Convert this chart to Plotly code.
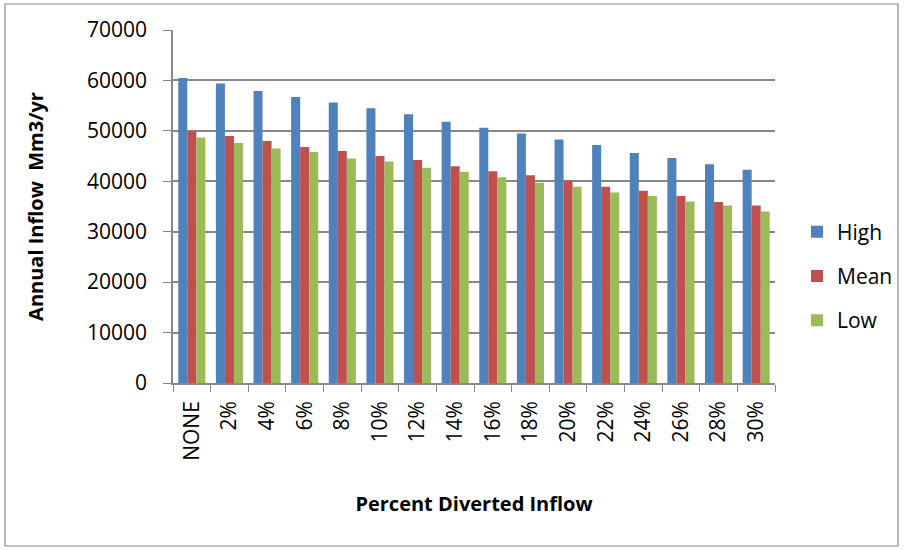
import plotly.graph_objects as go

categories = ["NONE", "2%", "4%", "6%", "8%", "10%", "12%", "14%",
              "16%", "18%", "20%", "22%", "24%", "26%", "28%", "30%"]
high = [60500, 59400, 57900, 56700, 55600, 54500, 53300, 51800,
        50600, 49500, 48300, 47200, 45600, 44600, 43400, 42300]
mean = [49900, 49000, 48000, 46800, 46000, 45000, 44200, 43000,
        42000, 41200, 40100, 38900, 38100, 37100, 35900, 35200]
low = [48700, 47600, 46500, 45800, 44500, 43900, 42700, 41900,
       40800, 39700, 38900, 37800, 37100, 36000, 35200, 34000]
y_ticks = [0, 10000, 20000, 30000, 40000, 50000, 60000, 70000]
y_tick_labels = [str(v) for v in y_ticks]

FONT = "Open Sans, sans-serif"
GRID = "#888888"

fig = go.Figure()
for name, vals, col in [("High", high, "#4F81BD"), ("Mean", mean, "#C0504D"), ("Low", low, "#9BBB59")]:
    fig.add_trace(go.Bar(x=categories, y=vals, name=name, marker_color=col,
                         marker_line_width=0, legendgroup=name))

L, R, T, B = 173, 130, 30, 167
W, H = 905, 550
pw, ph = W - L - R, H - T - B

def px_x(p):
    return (p - L) / pw

def px_y(p):
    return (H - B - p) / ph

fig.update_layout(
    width=W, height=H,
    margin=dict(l=L, r=R, t=T, b=B, pad=0, autoexpand=False),
    paper_bgcolor="white", plot_bgcolor="white",
    font=dict(family=FONT, size=21, color="black"),
    barmode="group", bargap=0.28, bargroupgap=0.0,
    legend=dict(x=px_x(797), y=px_y(276), xanchor="left", yanchor="middle",
                font=dict(size=21), tracegroupgap=14, bgcolor="rgba(0,0,0,0)"),
    xaxis=dict(type="category", showline=True, linecolor=GRID, linewidth=1.5,
               ticks="outside", ticklen=7, tickcolor=GRID, tickson="boundaries",
               tickangle=-90, showgrid=False, ticklabelstandoff=8,
               title=dict(text="<b>Percent Diverted Inflow</b>", font=dict(size=20), standoff=37)),
    yaxis=dict(range=[0, 70000], tickvals=y_ticks, ticktext=y_tick_labels,
               showline=True, linecolor=GRID, linewidth=1.5,
               ticks="outside", ticklen=8, tickcolor=GRID, showgrid=True, gridcolor=GRID,
               gridwidth=1.5, zeroline=False, ticklabelstandoff=12,
               title=dict(text="<b>Annual Inflow&nbsp; Mm3/yr</b>", font=dict(size=20), standoff=38)),
    shapes=[dict(type="rect", xref="paper", yref="paper",
                 x0=px_x(5), x1=px_x(898), y0=px_y(546), y1=px_y(4),
                 line=dict(color="#888888", width=1.2), fillcolor="rgba(0,0,0,0)", layer="below")],
)

fig.write_html("out.html", config={"displayModeBar": False},
               post_script="document.body.style.margin='0';")
